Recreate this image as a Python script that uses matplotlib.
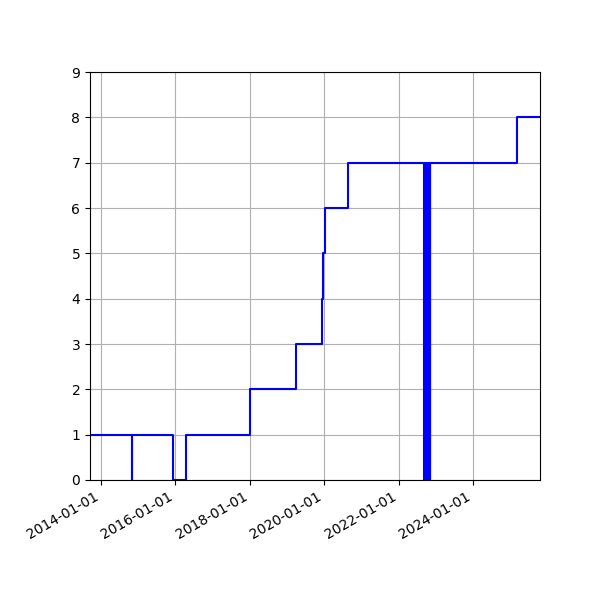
import matplotlib
matplotlib.use("Agg")
import matplotlib.pyplot as plt
import matplotlib.dates as mdates
import pandas as pd

# step changes (date, value after the change)
step_dates = ["2013-09-14", "2014-10-30", "2014-11-01", "2015-12-12", "2016-04-13",
              "2018-01-06", "2019-03-27", "2019-12-06", "2019-12-20", "2020-01-12",
              "2020-08-24"]
step_values = [1, 0, 1, 0, 1, 2, 3, 4, 5, 6, 7]

# burst of drops between 7 and 0 in autumn 2022
burst_dates = ["2022-09-11", "2022-09-15", "2022-09-19", "2022-09-23", "2022-09-27",
               "2022-10-01", "2022-10-05", "2022-10-09", "2022-10-13", "2022-10-17",
               "2022-10-21", "2022-10-25", "2022-10-29", "2022-11-02", "2022-11-06"]
burst_values = [0, 7, 0, 7, 0, 7, 0, 7, 0, 7, 0, 7, 0, 7, 0]

tail_dates = ["2022-11-07", "2025-03-07", "2025-10-20"]
tail_values = [7, 8, 8]

dates = pd.to_datetime(step_dates + burst_dates + tail_dates)
values = step_values + burst_values + tail_values

fig, ax = plt.subplots(figsize=(6, 6), dpi=100)
fig.subplots_adjust(left=0.15, right=0.9, top=0.88, bottom=0.2)
ax.plot(dates, values, drawstyle="steps-post", color="blue")
ax.set_xlim(dates[0], dates[-1])
ax.set_ylim(0, 9)
ax.xaxis.set_major_locator(mdates.YearLocator(2))
ax.xaxis.set_major_formatter(mdates.DateFormatter("%Y-%m-%d"))
ax.grid(True)
fig.autofmt_xdate()
fig.savefig("out.png")
